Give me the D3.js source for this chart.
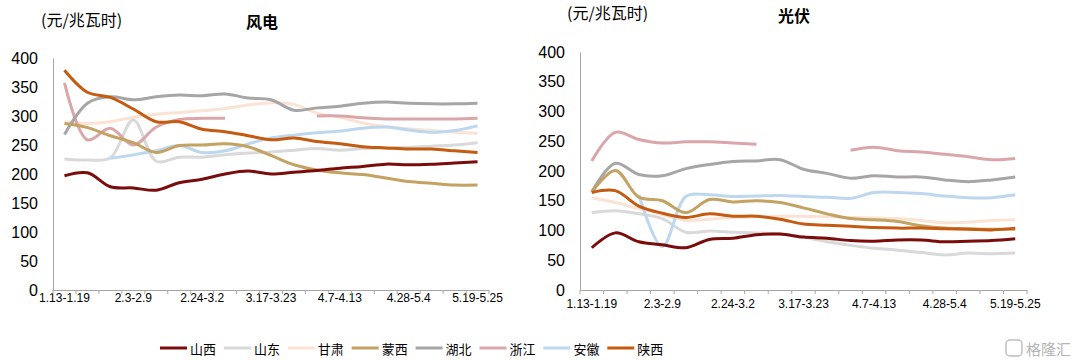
<!DOCTYPE html>
<html lang="zh">
<head>
    <meta charset="UTF-8">
    <title>风电 / 光伏 电价</title>
    <script src="https://d3js.org/d3.v7.min.js"></script>
    <style>
        body { margin: 0; background: #fff; }
        svg { display: block; }
        .tick text { font-family: "Liberation Sans", Arial, sans-serif; fill: #000; }
        .cjk { font-family: "Noto Sans CJK SC", sans-serif; }
    </style>
</head>
<body>
    <svg width="1080" height="361"></svg>

    <script>
        const weeks = ['1.13-1.19', '1.20-1.26', '1.27-2.2', '2.3-2.9', '2.10-2.16', '2.17-2.23', '2.24-3.2',
            '3.3-3.9', '3.10-3.16', '3.17-3.23', '3.24-3.30', '3.31-4.6', '4.7-4.13', '4.14-4.20',
            '4.21-4.27', '4.28-5.4', '5.5-5.11', '5.12-5.18', '5.19-5.25'];
        const tickLabels = ['1.13-1.19', '2.3-2.9', '2.24-3.2', '3.17-3.23', '4.7-4.13', '4.28-5.4', '5.19-5.25'];
        const yTicks = [0, 50, 100, 150, 200, 250, 300, 350, 400];

        const provinces = ['山西', '山东', '甘肃', '蒙西', '湖北', '浙江', '安徽', '陕西'];
        const colors = ['#7a0c0c', '#d9d9d9', '#fbe3d4', '#c3a262', '#a6a6a6', '#daa6aa', '#bdd7ee', '#c55a11'];

        // 风电
        const windShanxi = [197, 202, 178, 176, 172, 185, 191, 200, 205, 200, 203, 206, 210, 213, 217, 216, 217, 219, 221];
        const windShandong = [226, 224, 228, 293, 222, 229, 229, 233, 236, 238, 241, 244, 241, 244, 245, 246, 248, 250, 254];
        const windGansu = [290, 287, 290, 298, 303, 306, 309, 313, 319, 323, 320, 305, 298, 288, 282, 278, 275, 272, 270];
        const windMengxi = [287, 280, 266, 254, 237, 249, 250, 252, 247, 232, 216, 207, 202, 199, 193, 187, 184, 181, 181];
        const windHubei = [268, 322, 333, 328, 333, 336, 335, 338, 331, 328, 310, 314, 317, 322, 324, 322, 321, 321, 322];
        const windZhejiang = [357, 259, 279, 250, 281, 294, 296, 296, null, null, null, 300, 300, 297, 295, 295, 295, 295, 296];
        const windAnhui = [null, null, 227, 233, 240, 249, 237, 240, 252, 262, 267, 271, 274, 279, 281, 276, 272, 275, 283];
        const windShaanxi = [379, 341, 332, 312, 290, 290, 277, 273, 266, 259, 262, 256, 252, 247, 245, 243, 243, 240, 237];

        // 光伏
        const solarShanxi = [71, 96, 81, 76, 71, 85, 87, 93, 94, 89, 87, 83, 82, 84, 84, 81, 82, 83, 86];
        const solarShandong = [130, 133, 128, 120, 97, 99, 97, 96, 94, 89, 81, 75, 70, 67, 63, 59, 62, 61, 62];
        const solarGansu = [155, 147, 137, 127, 117, 119, 122, 123, 124, 124, 123, 122, 121, 120, 117, 113, 114, 117, 118];
        const solarMengxi = [164, 201, 156, 150, 130, 152, 148, 150, 147, 138, 128, 120, 118, 115, 108, 104, 103, 102, 102];
        const solarHubei = [165, 213, 194, 192, 204, 211, 216, 217, 219, 203, 196, 188, 192, 190, 190, 185, 182, 185, 190];
        const solarZhejiang = [217, 265, 253, 247, 249, 249, 247, 245, null, null, null, 235, 240, 234, 232, 228, 224, 219, 221];
        const solarAnhui = [null, null, 160, 73, 157, 160, 157, 158, 159, 157, 156, 154, 164, 164, 162, 158, 155, 155, 160];
        const solarShaanxi = [164, 167, 141, 129, 122, 128, 124, 124, 119, 111, 109, 107, 105, 104, 104, 103, 102, 101, 104];

        const windSeries = [windShanxi, windShandong, windGansu, windMengxi, windHubei, windZhejiang, windAnhui, windShaanxi];
        const solarSeries = [solarShanxi, solarShandong, solarGansu, solarMengxi, solarHubei, solarZhejiang, solarAnhui, solarShaanxi];

        const svg = d3.select('svg');
        const axisColor = '#a6a6a6';
        // draw order: light lines first so darker ones sit on top
        const drawOrder = [2, 1, 6, 5, 4, 3, 7, 0];

        function drawPanel(opts) {
            const x = d3.scaleBand().domain(weeks).range([opts.left, opts.right]).padding(0);
            const y = d3.scaleLinear().domain([0, 400]).range([opts.bottom, opts.top]);
            const cx = d => x(d) + x.bandwidth() / 2;

            // y axis
            const yAxis = svg.append('g')
                .attr('transform', `translate(${opts.left},0)`)
                .call(d3.axisLeft(y).tickValues(yTicks).tickSize(0).tickPadding(15));
            yAxis.select('.domain').attr('stroke', axisColor);
            yAxis.selectAll('.tick text').style('font-size', '16px');

            // x axis
            const xAxis = svg.append('g')
                .attr('transform', `translate(0,${opts.bottom})`)
                .call(d3.axisBottom(x)
                    .tickValues(tickLabels)
                    .tickSize(0)
                    .tickSizeOuter(0)
                    .tickPadding(opts.xPad));
            xAxis.select('.domain').attr('stroke', axisColor);
            xAxis.selectAll('.tick text').style('font-size', '12px');

            // tick marks on band boundaries
            const bounds = weeks.map(w => x(w)).concat([opts.right]);
            xAxis.selectAll('.bound')
                .data(bounds)
                .enter().append('line')
                .attr('class', 'bound')
                .attr('x1', d => d).attr('x2', d => d)
                .attr('y1', 0).attr('y2', 4)
                .attr('stroke', axisColor);

            const line = d3.line()
                .defined(d => d.v !== null)
                .x(d => cx(d.w))
                .y(d => y(d.v))
                .curve(d3.curveCatmullRom.alpha(0.5));

            drawOrder.forEach(k => {
                const pts = weeks.map((w, i) => ({ w: w, v: opts.series[k][i] }));
                svg.append('path')
                    .datum(pts)
                    .attr('fill', 'none')
                    .attr('stroke', colors[k])
                    .attr('stroke-width', 3)
                    .attr('stroke-linejoin', 'round')
                    .attr('d', line);
            });

            // unit + title
            svg.append('text')
                .attr('class', 'cjk')
                .attr('x', opts.unitX)
                .attr('y', opts.unitY)
                .attr('dominant-baseline', 'central')
                .style('font-size', '16px')
                .text('(元/兆瓦时)');

            svg.append('text')
                .attr('class', 'cjk')
                .attr('x', opts.titleX)
                .attr('y', opts.titleY)
                .attr('text-anchor', 'middle')
                .attr('dominant-baseline', 'central')
                .style('font-size', '16px')
                .style('font-weight', 'bold')
                .text(opts.title);
        }

        drawPanel({
            title: '风电', series: windSeries,
            left: 53, right: 489, top: 58, bottom: 290, xPad: 3,
            unitX: 41, unitY: 19, titleX: 262, titleY: 21
        });

        drawPanel({
            title: '光伏', series: solarSeries,
            left: 580, right: 1027, top: 52, bottom: 290, xPad: 9,
            unitX: 567, unitY: 12, titleX: 794, titleY: 15
        });

        // legend
        const legend = svg.append('g').attr('transform', 'translate(160,348)');
        const item = legend.selectAll('g')
            .data(provinces)
            .enter().append('g')
            .attr('transform', (d, i) => `translate(${i * 63.9},0)`);

        item.append('line')
            .attr('x1', 0).attr('x2', 27)
            .attr('y1', 0).attr('y2', 0)
            .attr('stroke', (d, i) => colors[i])
            .attr('stroke-width', 3);

        item.append('text')
            .attr('class', 'cjk')
            .attr('x', 30)
            .attr('dominant-baseline', 'central')
            .style('font-size', '13px')
            .text(d => d);

        // watermark
        const wm = svg.append('g').attr('transform', 'translate(1006,348)').attr('opacity', 0.55);
        wm.append('rect')
            .attr('x', 0).attr('y', -8).attr('width', 16).attr('height', 16).attr('rx', 4)
            .attr('fill', 'none').attr('stroke', '#888').attr('stroke-width', 1.5);
        wm.append('text')
            .attr('class', 'cjk')
            .attr('x', 20)
            .attr('dominant-baseline', 'central')
            .style('font-size', '15px')
            .attr('fill', '#777')
            .text('格隆汇');
    </script>
</body>
</html>
